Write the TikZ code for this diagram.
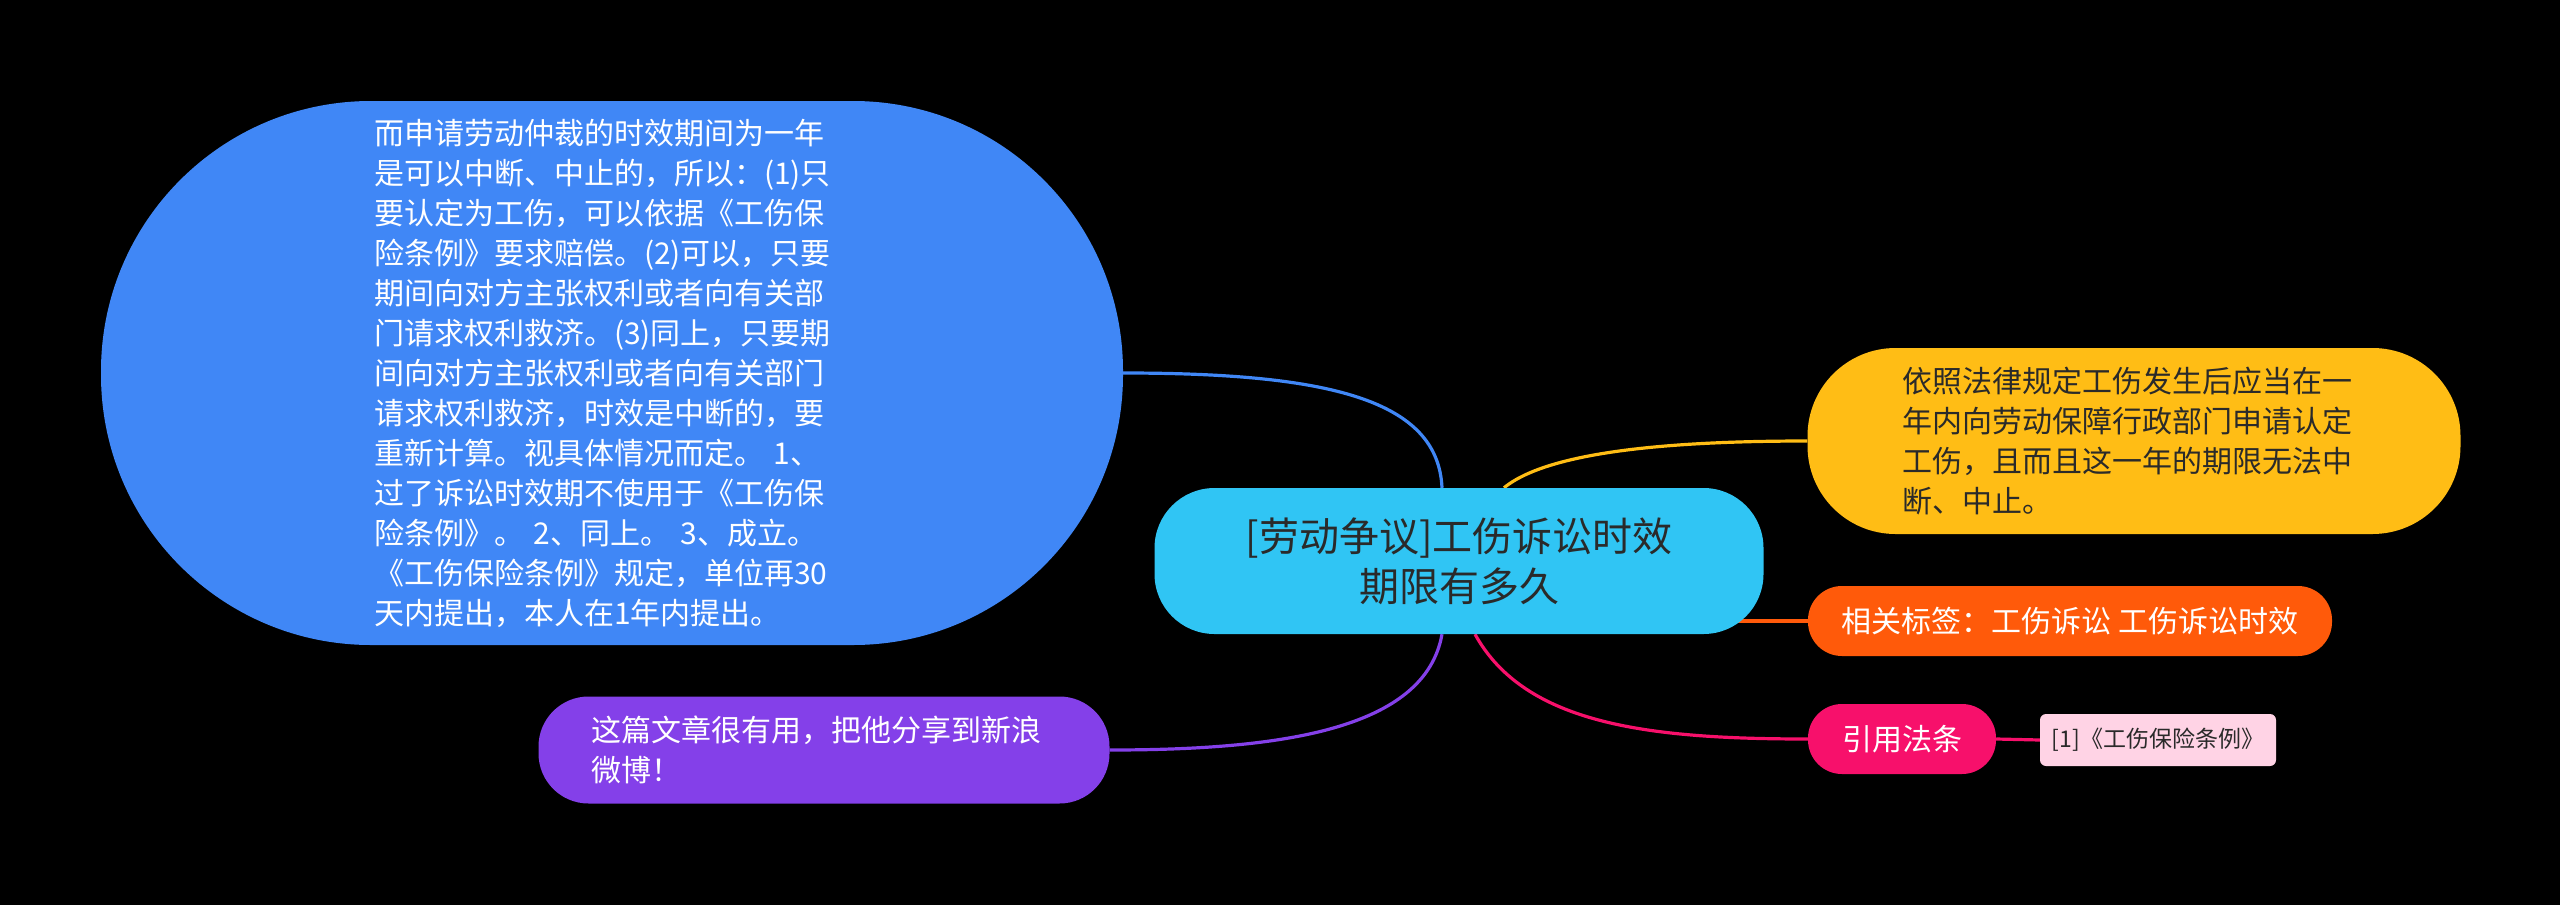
\documentclass[tikz,border=0pt]{standalone}
\usepackage{fontspec}
\setmainfont{Noto Sans CJK SC}
\usetikzlibrary{backgrounds}
\definecolor{cBlue}{HTML}{4087F6}
\definecolor{cCyan}{HTML}{30C5F4}
\definecolor{cYellow}{HTML}{FFBD15}
\definecolor{cOrange}{HTML}{FF5A0A}
\definecolor{cPink}{HTML}{F7106B}
\definecolor{cLight}{HTML}{FFD3E5}
\definecolor{cPurple}{HTML}{8440E9}
\definecolor{cDark}{HTML}{2A2A2A}
\begin{document}
\begin{tikzpicture}[x=1pt,y=-1pt]
\tikzset{
  bubble/.style={draw=none, inner sep=0pt, align=left},
  link/.style={line width=3.2pt},
  txtbig/.style={font=\fontsize{30}{40}\selectfont},
}
\useasboundingbox (0,0) rectangle (2560,905);
\node[bubble, fill=cBlue, rounded corners=270pt, minimum width=1022pt, minimum height=544pt, text=white, txtbig, text width=476pt] (blue) at (612,373) {而申请劳动仲裁的时效期间为一年\\是可以中断、中止的，所以：(1)只\\要认定为工伤，可以依据《工伤保\\险条例》要求赔偿。(2)可以，只要\\期间向对方主张权利或者向有关部\\门请求权利救济。(3)同上，只要期\\间向对方主张权利或者向有关部门\\请求权利救济，时效是中断的，要\\重新计算。视具体情况而定。 1、\\过了诉讼时效期不使用于《工伤保\\险条例》。 2、同上。 3、成立。\\《工伤保险条例》规定，单位再30\\天内提出，本人在1年内提出。};
\node[bubble, align=center, fill=cCyan, rounded corners=60pt, minimum width=609pt, minimum height=146pt, text=cDark, font=\fontsize{40}{50}\selectfont] (central) at (1459,561) {[劳动争议]工伤诉讼时效\\期限有多久};
\node[bubble, fill=cYellow, rounded corners=88pt, minimum width=653pt, minimum height=186pt, text=cDark, txtbig, text width=464pt] (yellow) at (2134,441) {依照法律规定工伤发生后应当在一\\年内向劳动保障行政部门申请认定\\工伤，且而且这一年的期限无法中\\断、中止。};
\node[bubble, fill=cOrange, rounded corners=34pt, minimum width=524pt, minimum height=70pt, text=white, txtbig] (orange) at (2070,621) {相关标签：工伤诉讼 工伤诉讼时效};
\node[bubble, fill=cPink, rounded corners=34pt, minimum width=188pt, minimum height=70pt, text=white, txtbig] (pink) at (1902,739) {引用法条};
\node[bubble, fill=cLight, rounded corners=6pt, minimum width=236pt, minimum height=52pt, text=cDark, font=\fontsize{23}{28}\selectfont] (law) at (2158,740) {[1]《工伤保险条例》};
\node[bubble, fill=cPurple, rounded corners=50pt, minimum width=571pt, minimum height=107pt, text=white, txtbig, text width=466pt] (purple) at (824,750) {这篇文章很有用，把他分享到新浪\\微博！};
\begin{pgfonlayer}{background}
\fill[black] (0,0) rectangle (2560,905);
\draw[link, draw=cBlue] (blue.east) .. controls (1330,373) and (1438,400) .. ([xshift=-17pt]central.north);
\draw[link, draw=cYellow] ([xshift=45pt]central.north) .. controls (1550,450) and (1680,441) .. (yellow.west);
\draw[link, draw=cOrange] ([xshift=-40pt]central.east |- orange.west) -- (orange.west);
\draw[link, draw=cPink] ([xshift=16pt]central.south) .. controls (1525,725) and (1650,739) .. (pink.west);
\draw[link, draw=cPurple] ([xshift=-17pt]central.south) .. controls (1425,730) and (1280,750) .. (purple.east);
\draw[link, draw=cPink] (pink.east) -- (law.west);
\end{pgfonlayer}
\end{tikzpicture}
\end{document}
